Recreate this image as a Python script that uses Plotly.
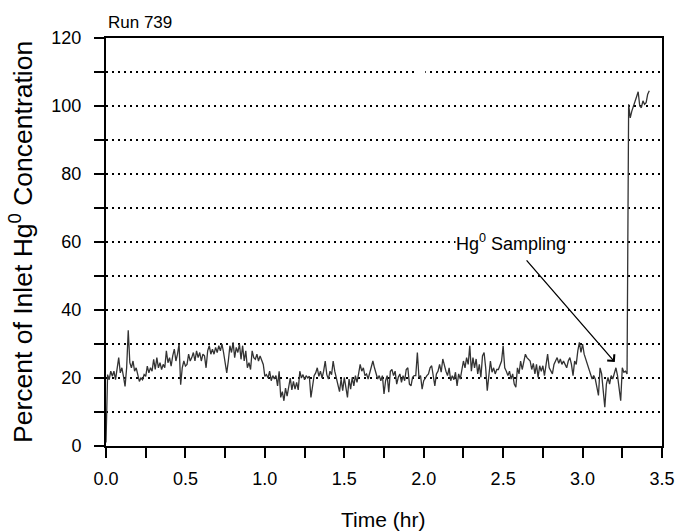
import numpy as np
import plotly.graph_objects as go

# Time axis (hr), one reading every 0.01 hr
time_hr = np.round(np.arange(0, 343) * 0.01, 2)

# Percent of inlet Hg0 concentration
pct_inlet = [
    1, 21, 19.5, 22, 20.5, 22, 19.5, 23.5, 26, 21.5,
    23, 20.5, 17.5, 23, 34, 24.5, 23, 25, 22, 23,
    20.5, 19, 20, 19.5, 21, 20.5, 23.5, 21.5, 23, 22,
    25.5, 22.5, 26, 23, 24.5, 22.5, 24, 23, 28, 24.5,
    26, 23.5, 26.5, 28.5, 25, 27, 30, 18, 23, 25,
    23.5, 24, 27, 25, 26, 27.5, 25, 28, 26, 27.5,
    25, 27, 26.5, 23, 28, 29.5, 27, 28.5, 27, 29,
    27.5, 29.5, 28, 30, 27.5, 25, 21.5, 25, 29.5, 27.5,
    30.5, 26, 29, 27.5, 30, 25.5, 29.5, 25, 28, 23,
    24.5, 22.5, 28, 26, 25.5, 27, 25, 26.5, 25, 24,
    20.5, 21, 20, 22, 19.2, 20.7, 19.7, 20.7, 17.7, 22,
    14.3, 16, 13.3, 17, 14.7, 17.5, 20, 16.5, 19, 16.7,
    18.7, 16.5, 22, 20, 21, 19.5, 20.7, 20, 20.5, 14.3,
    17, 20.7, 21.5, 23, 20.5, 22, 20, 22, 25, 21,
    19.7, 22, 21, 25, 22, 19.7, 17.7, 16, 19.7, 16.3,
    20.2, 17.7, 14.3, 19.7, 16.7, 20.2, 17.7, 20.7, 18.7, 21.2,
    24, 22, 23, 20.7, 21.2, 19.7, 21.7, 23.6, 25, 23,
    21.2, 19.7, 20.7, 19.2, 20.7, 15.3, 19.2, 20.7, 15.8, 22,
    22.5, 20.7, 22, 18.2, 20.2, 21.2, 18.7, 20.7, 19.2, 22.5,
    23, 18.2, 17.7, 20.2, 20.7, 20.7, 27.5, 20.2, 20.7, 16.7,
    19.2, 20.2, 20.7, 21.2, 23, 23.6, 20.7, 17.7, 21.2, 22,
    24, 21.7, 25.6, 23.6, 22, 20.7, 23, 19.2, 20.7, 19.5,
    21.7, 17.7, 21.2, 19.7, 22.5, 25, 23, 26, 24, 29.5,
    22, 26, 23, 25.6, 21.2, 24, 20.2, 26.5, 27.5, 23,
    16.3, 22, 25, 21.7, 23, 21.2, 22.5, 22.5, 24, 25,
    29.5, 23, 22, 20.7, 22, 19.7, 21.2, 18.2, 17.3, 23,
    21.2, 25, 22.5, 25, 27, 26, 25.6, 25, 22.5, 24.3,
    21.2, 24, 20.2, 23.6, 22, 23.6, 20.7, 24, 27, 23,
    22, 21.2, 24, 25, 26, 24.3, 25.6, 24, 25, 24,
    23, 25, 26, 24, 20.7, 25, 24, 28, 30.5, 27.5,
    30, 27, 25.5, 24, 22, 20.5, 19.7, 20.7, 19.7, 17.3,
    14.9, 23, 21.2, 16.3, 11.4, 18.2, 20.2, 18.2, 20.7, 19.7,
    21.7, 23, 20.7, 17, 13.3, 23, 21.7, 22, 21.2, 100.5,
    96.5, 98.5, 100.3, 101.3, 102.7, 104.2, 100, 99.5, 101.5, 100.5,
    101, 103.5, 104.5,
]

x_ticks = [0, 0.5, 1.0, 1.5, 2.0, 2.5, 3.0, 3.5]
x_labels = ["0.0", "0.5", "1.0", "1.5", "2.0", "2.5", "3.0", "3.5"]
y_ticks = [0, 20, 40, 60, 80, 100, 120]

run_label = "Run 739"
x_title = "Time (hr)"
y_title = "Percent of Inlet Hg<sup>0</sup> Concentration"
note_text = "Hg<sup>0</sup> Sampling"
note_head = (3.203, 24.7)
note_tail = (2.549, 59.9)

FONT = "Liberation Sans, Arial, Helvetica, sans-serif"
DOTS = "2px,4px"

fig = go.Figure()
fig.add_trace(go.Scatter(
    x=time_hr, y=pct_inlet, mode="lines",
    line=dict(color="#333333", width=1.3),
    showlegend=False, hoverinfo="skip",
))

fig.update_layout(
    width=676, height=532,
    margin=dict(l=106, r=14, t=38, b=86, autoexpand=False),
    paper_bgcolor="white", plot_bgcolor="white",
    font=dict(family=FONT, color="black", size=18),
    showlegend=False,
)

fig.update_xaxes(
    range=[0, 3.5], tickvals=x_ticks, ticktext=x_labels,
    automargin=False,
    showgrid=False, zeroline=False,
    showline=True, linecolor="black", linewidth=2, mirror=True,
    ticks="outside", ticklen=10, tickwidth=1.5, tickcolor="black",
    ticklabelstandoff=5,
    tickfont=dict(size=18, family=FONT, color="black"),
    minor=dict(dtick=0.25, ticks="outside", ticklen=10, tickwidth=1.5,
               tickcolor="black", showgrid=False),
)
fig.update_yaxes(
    range=[0, 120], tickvals=y_ticks,
    automargin=False,
    showgrid=True, gridcolor="black", gridwidth=2, griddash=DOTS,
    zeroline=False,
    showline=True, linecolor="black", linewidth=2, mirror=True,
    ticks="outside", ticklen=10, tickwidth=1.5, tickcolor="black",
    ticklabelstandoff=9,
    tickfont=dict(size=18, family=FONT, color="black"),
    minor=dict(dtick=10, ticks="outside", ticklen=10, tickwidth=1.5,
               tickcolor="black", showgrid=True, gridcolor="black",
               gridwidth=2, griddash=DOTS),
)

# small break in the 110 % dotted line seen in the original
fig.add_shape(type="line", x0=1.955, x1=2.01, y0=110, y1=110,
              xref="x", yref="y", layer="between",
              line=dict(color="white", width=5))

fig.add_annotation(
    x=note_head[0], y=note_head[1], ax=note_tail[0], ay=note_tail[1],
    xref="x", yref="y", axref="x", ayref="y",
    text=note_text, showarrow=True, arrowhead=4, arrowsize=1.4,
    arrowwidth=1.3, arrowcolor="black", startstandoff=8,
    bgcolor="white", borderpad=0,
    font=dict(size=18, family=FONT, color="black"),
)
fig.add_annotation(
    x=0, y=1, xref="paper", yref="paper", xanchor="left", yanchor="bottom",
    yshift=4, text=run_label, showarrow=False,
    font=dict(size=17, family=FONT, color="black"),
)
fig.add_annotation(
    x=-0.153, y=0.5, xref="paper", yref="paper", xanchor="center",
    yanchor="middle", textangle=-90, text=y_title, showarrow=False,
    font=dict(size=26.5, family=FONT, color="black"),
)
fig.add_annotation(
    x=0.498, y=-0.181, xref="paper", yref="paper", xanchor="center",
    yanchor="middle", text=x_title, showarrow=False,
    font=dict(size=21, family=FONT, color="black"),
)

fig.write_html("out.html")
